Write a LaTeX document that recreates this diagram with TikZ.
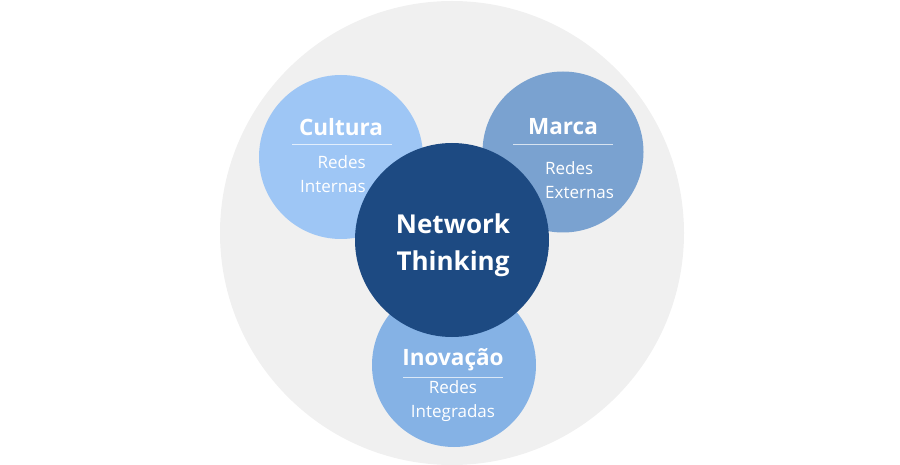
\documentclass[tikz,border=0pt]{standalone}
\usepackage{fontspec}
\setmainfont{Open Sans}
\definecolor{bgc}{HTML}{F0F0F0}
\definecolor{cult}{HTML}{9EC6F5}
\definecolor{marc}{HTML}{7AA2D0}
\definecolor{inov}{HTML}{85B2E5}
\definecolor{netw}{HTML}{1D4A82}
\begin{document}
\begin{tikzpicture}[x=1pt,y=-1pt,
  blob/.style={circle,inner sep=0pt,draw=none},
  ttl/.style={text=white,font=\fontsize{22.5}{24}\selectfont\bfseries,inner sep=0pt},
  sub/.style={text=white,font=\fontsize{17}{24}\selectfont,inner sep=0pt},
  rule/.style={white,opacity=0.7,line width=1pt}]
\useasboundingbox (0,0) rectangle (900,465);
\node[blob,fill=bgc,minimum size=464pt] (bg) at (452,233) {};
\node[blob,fill=cult,minimum size=164pt] (cul) at (341,157) {};
\node[blob,fill=marc,minimum size=161pt] (mar) at (563,152) {};
\node[blob,fill=inov,minimum size=164pt] (ino) at (454,365) {};
\node[ttl] (culT) at (341,127) {Cultura};
\draw[rule] (292,145) -- (392,145);
\node[sub,align=right,anchor=east] (culS) at (366,174) {Redes\\Internas};
\node[ttl] (marT) at (563,127) {Marca};
\draw[rule] (513,145) -- (613,145);
\node[sub,align=left,anchor=west] (marS) at (545,180) {Redes\\Externas};
\node[blob,fill=netw,minimum size=194pt] (net) at (452,240) {};
\node[text=white,font=\fontsize{26}{37}\selectfont\bfseries,align=center,inner sep=0pt] (netT) at (453,245) {Network\\Thinking};
\node[ttl] (inoT) at (453,360) {Inovação};
\draw[rule] (403,377) -- (503,377);
\node[sub,align=center] (inoS) at (453,401) {Redes\\Integradas};
\end{tikzpicture}
\end{document}
